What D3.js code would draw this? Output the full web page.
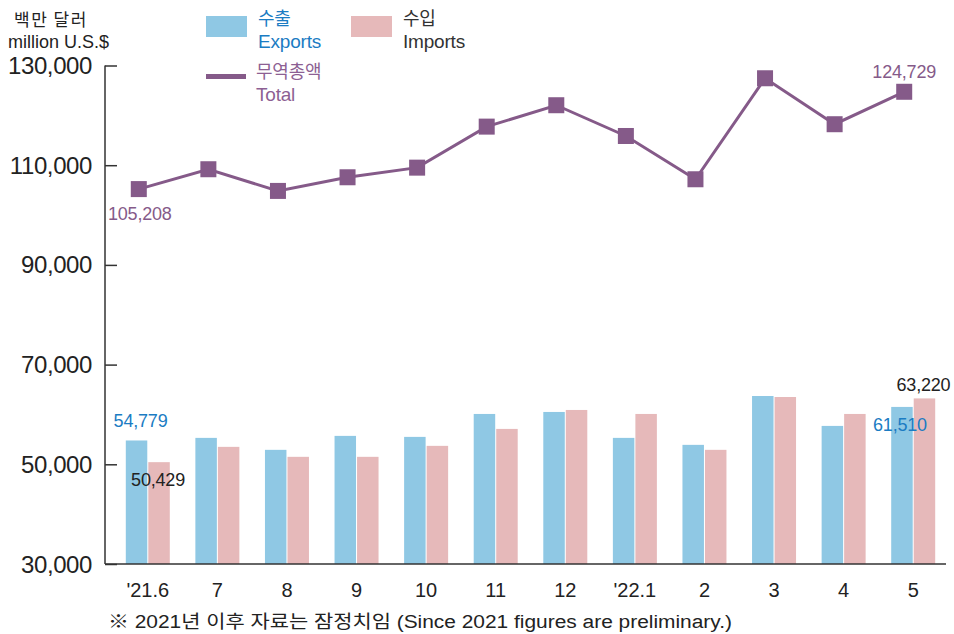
<!DOCTYPE html>
<html>
<head>
<meta charset="utf-8">
<script src="https://cdn.jsdelivr.net/npm/d3@7"></script>
<style>
  body { margin: 0; background: #fff; }
  svg text { font-family: 'Liberation Sans', Arial, 'Noto Sans CJK KR', sans-serif; }
  .kr { font-family: 'Noto Sans CJK KR', sans-serif; }
</style>
</head>
<body>
<div id="chart"></div>
<script>
var months = ["'21.6", '7', '8', '9', '10', '11', '12', "'22.1", '2', '3', '4', '5'];
var exportsM = [54779, 55300, 52900, 55700, 55500, 60100, 60500, 55300, 53900, 63700, 57700, 61510];
var importsM = [50429, 53500, 51500, 51500, 53700, 57100, 60900, 60100, 52900, 63500, 60100, 63220];
var totalM = [105208, 109190, 104840, 107580, 109510, 117740, 122030, 115860, 107180, 127440, 118220, 124729];
var yTicks = [30000, 50000, 70000, 90000, 110000, 130000];

var W = 954, H = 634;
var colExp = '#8fc8e4', colImp = '#e6b9ba', colTot = '#855a89';
var fmt = d3.format(',');

var svg = d3.select('#chart').append('svg')
  .attr('width', W).attr('height', H);

var x = d3.scaleBand().domain(months).range([113, 948]);
var x1 = d3.scaleBand().domain(['exp', 'imp'])
  .range([x.bandwidth() / 2 - 22, x.bandwidth() / 2 + 22])
  .paddingInner(2 / 44);
var y = d3.scaleLinear().domain([30000, 130000]).range([564, 65.5]);

// line points sit a little left of the bar group centre
function xp(m) { return x(m) + x.bandwidth() / 2 - 9; }

// bars
svg.append('g').selectAll('rect.exp')
  .data(months).enter().append('rect')
  .attr('x', function(d) { return x(d) + x1('exp'); })
  .attr('y', function(d, i) { return y(exportsM[i]); })
  .attr('width', x1.bandwidth())
  .attr('height', function(d, i) { return y(30000) - y(exportsM[i]); })
  .attr('fill', colExp);

svg.append('g').selectAll('rect.imp')
  .data(months).enter().append('rect')
  .attr('x', function(d) { return x(d) + x1('imp'); })
  .attr('y', function(d, i) { return y(importsM[i]); })
  .attr('width', x1.bandwidth())
  .attr('height', function(d, i) { return y(30000) - y(importsM[i]); })
  .attr('fill', colImp);

// axes
var yAxis = svg.append('g')
  .attr('transform', 'translate(105,0)')
  .call(d3.axisRight(y).tickValues(yTicks).tickSize(12).tickFormat(''));
yAxis.select('.domain').attr('d', 'M0,' + y(130000) + 'H0V' + y(30000));
yAxis.selectAll('line, path').attr('stroke', '#333').attr('stroke-width', 1.5);

svg.append('g').selectAll('text.yt')
  .data(yTicks).enter().append('text')
  .attr('x', 92).attr('y', function(d) { return y(d) + 8.5; })
  .attr('text-anchor', 'end')
  .attr('font-size', 24).attr('letter-spacing', -0.4)
  .attr('fill', '#222')
  .text(function(d) { return fmt(d); });

svg.append('line')
  .attr('x1', 105).attr('x2', 946)
  .attr('y1', y(30000)).attr('y2', y(30000))
  .attr('stroke', '#333').attr('stroke-width', 1.5);

svg.append('g').selectAll('text.xt')
  .data(months).enter().append('text')
  .attr('x', function(d) { return x(d) + x.bandwidth() / 2; })
  .attr('y', 597)
  .attr('text-anchor', 'middle')
  .attr('font-size', 20)
  .attr('fill', '#222')
  .text(function(d) { return d; });

// total line
var line = d3.line()
  .x(function(d) { return xp(d); })
  .y(function(d, i) { return y(totalM[i]); });

svg.append('path')
  .datum(months)
  .attr('d', line)
  .attr('fill', 'none')
  .attr('stroke', colTot)
  .attr('stroke-width', 3);

svg.append('g').selectAll('rect.mk')
  .data(months).enter().append('rect')
  .attr('x', function(d) { return xp(d) - 8; })
  .attr('y', function(d, i) { return y(totalM[i]) - 8; })
  .attr('width', 16).attr('height', 16)
  .attr('fill', colTot);

// value labels
var first = months[0], last = months[months.length - 1];
var labels = [
  { t: fmt(exportsM[0]), x: x(first) + x1('exp') + x1.bandwidth() / 2 + 4, y: y(exportsM[0]) - 13, c: '#1b7cc3' },
  { t: fmt(importsM[0]), x: x(first) + x1('imp') + x1.bandwidth() / 2 - 1, y: y(importsM[0]) + 24, c: '#222' },
  { t: fmt(totalM[0]), x: xp(first) + 1, y: y(totalM[0]) + 31, c: colTot },
  { t: fmt(totalM[11]), x: xp(last), y: y(totalM[11]) - 14, c: colTot },
  { t: fmt(importsM[11]), x: x(last) + x1('imp') + x1.bandwidth() / 2 - 1, y: y(importsM[11]) - 7, c: '#222' },
  { t: fmt(exportsM[11]), x: x(last) + x1('exp') + x1.bandwidth() / 2 - 2, y: y(exportsM[11]) + 24, c: '#1b7cc3' }
];
svg.append('g').selectAll('text')
  .data(labels).enter().append('text')
  .attr('x', function(d) { return d.x; })
  .attr('y', function(d) { return d.y; })
  .attr('text-anchor', 'middle')
  .attr('font-size', 18).attr('letter-spacing', -0.2)
  .attr('fill', function(d) { return d.c; })
  .text(function(d) { return d.t; });

// unit title
svg.append('text').attr('class', 'kr')
  .attr('x', 14).attr('y', 26).attr('font-size', 17)
  .attr('letter-spacing', 1.5)
  .attr('fill', '#222').text('백만 달러');
svg.append('text')
  .attr('x', 8).attr('y', 48).attr('font-size', 18)
  .attr('fill', '#222').text('million U.S.$');

// legend
var lg = svg.append('g');
lg.append('rect').attr('x', 206).attr('y', 16).attr('width', 41).attr('height', 21).attr('fill', colExp);
lg.append('rect').attr('x', 351).attr('y', 16).attr('width', 41).attr('height', 21).attr('fill', colImp);
lg.append('rect').attr('x', 206).attr('y', 74).attr('width', 40).attr('height', 5).attr('fill', colTot);

var legendText = [
  { t: '수출', x: 258, y: 25, c: '#1b7cc3', kr: true },
  { t: 'Exports', x: 258, y: 48, c: '#1b7cc3', kr: false },
  { t: '수입', x: 403, y: 25, c: '#333', kr: true },
  { t: 'Imports', x: 403, y: 48, c: '#333', kr: false },
  { t: '무역총액', x: 256, y: 78, c: '#8d5f93', kr: true },
  { t: 'Total', x: 256, y: 101, c: '#8d5f93', kr: false }
];
lg.selectAll('text')
  .data(legendText).enter().append('text')
  .attr('class', function(d) { return d.kr ? 'kr' : null; })
  .attr('x', function(d) { return d.x; })
  .attr('y', function(d) { return d.y; })
  .attr('font-size', function(d) { return d.kr ? 18 : 19; })
  .attr('letter-spacing', -0.2)
  .attr('fill', function(d) { return d.c; })
  .text(function(d) { return d.t; });

// footnote
svg.append('text')
  .attr('x', 108).attr('y', 628)
  .attr('font-size', 18)
  .attr('textLength', 624).attr('lengthAdjust', 'spacingAndGlyphs')
  .attr('fill', '#222')
  .text('※ 2021년 이후 자료는 잠정치임 (Since 2021 figures are preliminary.)');
</script>
</body>
</html>
